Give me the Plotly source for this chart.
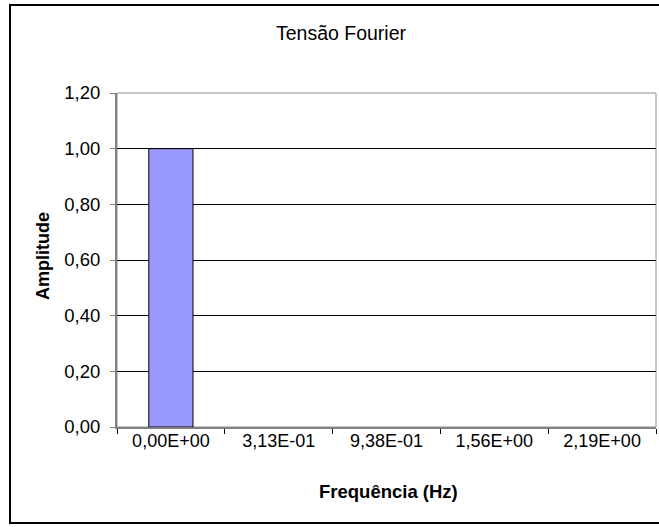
import plotly.graph_objects as go

# Spectrum data
frequencias = ["0,00E+00", "3,13E-01", "9,38E-01", "1,56E+00", "2,19E+00"]
amplitudes = [1.0, 0.0, 0.0, 0.0, 0.0]

W, H = 659, 527
ML, MR, MT, MB = 117, 3, 93, 100
PW = W - ML - MR
PH = H - MT - MB

def px_x(px):
    return (px - ML) / PW

def px_y(py):
    return (H - MB - py) / PH

FONT = "Liberation Sans, Arial, sans-serif"

fig = go.Figure(
    go.Bar(
        x=frequencias,
        y=amplitudes,
        marker=dict(
            color="#9999FF",
            line=dict(color="#000000", width=[1 if v > 0 else 0 for v in amplitudes]),
        ),
    )
)

fig.update_layout(
    width=W,
    height=H,
    margin=dict(l=ML, r=MR, t=MT, b=MB),
    paper_bgcolor="white",
    plot_bgcolor="white",
    separators=",.",
    bargap=0.59,
    showlegend=False,
    font=dict(family=FONT, size=18, color="#000000"),
    title=dict(
        text="Tensão Fourier",
        xref="container", x=341 / W, xanchor="center",
        yref="container", y=1 - 33 / H, yanchor="middle",
        font=dict(family=FONT, size=19.5, color="#000000"),
    ),
)

fig.update_yaxes(
    range=[0, 1.2],
    dtick=0.2,
    tickformat=".2f",
    showgrid=True,
    gridcolor="#000000",
    gridwidth=1,
    showline=True,
    linecolor="#808080",
    linewidth=2,
    mirror=False,
    ticks="outside",
    ticklen=5,
    tickcolor="#808080",
    ticklabelstandoff=6,
    zeroline=False,
    tickfont=dict(family=FONT, size=18.5, color="#000000"),
)

fig.update_xaxes(
    type="category",
    showgrid=False,
    showline=True,
    linecolor="#808080",
    linewidth=2,
    mirror=False,
    ticks="outside",
    tickson="boundaries",
    ticklen=5,
    tickcolor="#000000",
    ticklabelstandoff=-4,
    tickfont=dict(family=FONT, size=18, color="#000000"),
)

# Plot area border
fig.add_shape(
    type="rect", xref="paper", yref="paper",
    x0=0, x1=1, y0=0, y1=1,
    line=dict(color="#909090", width=1), fillcolor="rgba(0,0,0,0)",
    layer="below",
)

# Axis titles
fig.add_annotation(
    text="<b>Amplitude</b>", textangle=-90,
    xref="paper", yref="paper", x=px_x(43), y=px_y(256),
    xanchor="center", yanchor="middle", showarrow=False,
    font=dict(family=FONT, size=18, color="#000000"),
)
fig.add_annotation(
    text="<b>Frequência (Hz)</b>",
    xref="paper", yref="paper", x=px_x(388), y=px_y(491),
    xanchor="center", yanchor="middle", showarrow=False,
    font=dict(family=FONT, size=18.5, color="#000000"),
)

# Chart frame
fig.add_shape(
    type="rect", xref="paper", yref="paper",
    x0=px_x(10), x1=px_x(668), y0=px_y(523), y1=px_y(5),
    line=dict(color="#000000", width=2), fillcolor="rgba(0,0,0,0)",
    layer="below",
)

fig.write_html("out.html")
